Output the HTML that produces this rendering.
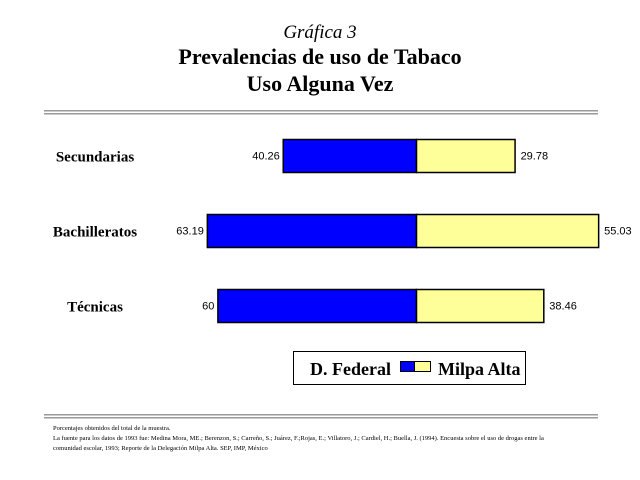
<!DOCTYPE html>
<html><head><meta charset="utf-8"><style>
body{margin:0;background:#fff;width:640px;height:480px;overflow:hidden;font-family:"Liberation Serif",serif}
svg{display:block}
</style></head><body>
<svg width="640" height="480">
<text x="320" y="38" text-anchor="middle" font-style="italic" font-size="19">Gráfica 3</text>
<text x="320" y="64" text-anchor="middle" font-weight="bold" font-size="22">Prevalencias de uso de Tabaco</text>
<text x="320" y="91" text-anchor="middle" font-weight="bold" font-size="22">Uso Alguna Vez</text>
<g>
<rect x="44" y="110" width="554" height="1.5" fill="#999"/><rect x="44" y="113" width="554" height="1.5" fill="#999"/></g>
<g id="bars"></g>
<g>
<rect x="293.5" y="351.5" width="232" height="33" fill="#fff" stroke="#000"/>
<text x="310" y="375" font-weight="bold" font-size="18">D. Federal</text>
<rect x="400.5" y="361.5" width="14" height="10" fill="#0000ff" stroke="#000"/>
<rect x="414.5" y="361.5" width="16" height="10" fill="#ffff99" stroke="#000"/>
<text x="438" y="375" font-weight="bold" font-size="18">Milpa Alta</text>
</g>
<g>
<rect x="44" y="414" width="554" height="1.5" fill="#999"/><rect x="44" y="417" width="554" height="1.5" fill="#999"/></g>
<g font-size="6.5">
<text x="53" y="430">Porcentajes obtenidos del total de la muestra.</text>
<text x="53" y="440">La fuente para los datos de 1993 fue: Medina Mora, ME.; Berenzon, S.; Carreño, S.; Juárez, F.;Rojas, E.; Villatoro, J.; Cardiel, H.; Buella, J. (1994). Encuesta sobre el uso de drogas entre la</text>
<text x="53" y="450">comunidad escolar, 1993; Reporte de la Delegación Milpa Alta. SEP, IMP, México</text>
</g>
</svg>
<script>
const categories=["Secundarias","Bachilleratos","Técnicas"];
const dfederal=[40.26,63.19,60];
const milpa=[29.78,55.03,38.46];
const dfLabels=["40.26","63.19","60"];
const maLabels=["29.78","55.03","38.46"];
const NS="http://www.w3.org/2000/svg";
const cx=416, k=3.31, bandTop=139, band=75, barH=33;
function x(v){return v*k;}
function y(i){return bandTop+i*band;}
const g=document.getElementById('bars');
function mk(t,a){const e=document.createElementNS(NS,t);for(const n in a)e.setAttribute(n,a[n]);g.appendChild(e);return e;}
categories.forEach((c,i)=>{
 const yy=y(i);
 const b=mk('rect',{x:cx-x(dfederal[i])+.5,y:yy+.5,width:x(dfederal[i]),height:barH,fill:'#0000ff',stroke:'#000','stroke-width':1.5});
 
 
 const m=mk('rect',{x:cx+.5,y:yy+.5,width:x(milpa[i]),height:barH,fill:'#ffff99',stroke:'#000','stroke-width':1.5});
 
 
 const l=mk('text',{x:cx-x(dfederal[i])-3,y:yy+barH/2+4,'text-anchor':'end','font-size':11,'font-family':'Liberation Sans,sans-serif'});
 l.textContent=dfLabels[i];
 
 
 const r=mk('text',{x:cx+x(milpa[i])+6,y:yy+barH/2+4,'font-size':11,'font-family':'Liberation Sans,sans-serif'});
 r.textContent=maLabels[i];
 
 
 const t=mk('text',{x:95,y:yy+barH/2+6,'text-anchor':'middle','font-size':15,'font-weight':'bold'});
 t.textContent=c;
 
 
});
</script>
</body></html>
